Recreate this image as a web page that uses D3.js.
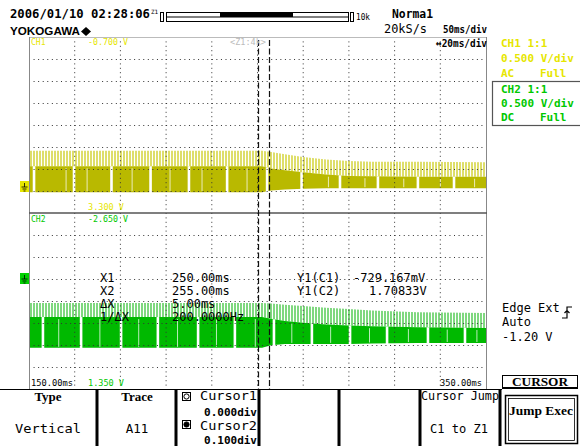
<!DOCTYPE html>
<html><head><meta charset="utf-8">
<script src="https://cdn.jsdelivr.net/npm/d3@7"></script>
<style>body{margin:0;background:#fff}svg{display:block}</style>
</head><body><svg id="c" width="580" height="446"></svg>
<script>
// ---- data ----
const timeRange = [150, 350];            // ms, 20 ms/div
const gridTimes = [170,190,210,230,250,270,290,310,330];
const cursorTimes = [250, 255];          // X1, X2 (ms)
const timeMs   = [150, 252, 256, 262, 270, 280, 290, 300, 320, 350];
const ch1Peak  = [0.80,0.80,0.77,0.72,0.66,0.60,0.57,0.55,0.55,0.54];
const ch1Top   = [0.45,0.45,0.40,0.36,0.31,0.26,0.23,0.22,0.21,0.21];
const ch1Bot   = [-0.14,-0.14,-0.10,-0.08,-0.06,-0.05,-0.05,-0.05,-0.05,-0.05];
const ch2Peak  = [-0.59,-0.59,-0.60,-0.63,-0.66,-0.70,-0.73,-0.76,-0.80,-0.82];
const ch2Top   = [-0.91,-0.91,-0.95,-1.00,-1.04,-1.08,-1.10,-1.12,-1.14,-1.16];
const ch2Bot   = [-1.61,-1.61,-1.55,-1.52,-1.52,-1.52,-1.52,-1.51,-1.50,-1.50];
const ch1Gaps  = [152.2,169.7,186.1,203.2,220.0,236.7,254.2,269.3,286.1,302.7,320.2,336.0];
const ch1Thin  = [166.2,175.4,195.1,211.7,225.7,245.4,281,297,314,330,345];
const ch2Gaps  = [156.1,172.8,190.3,206.4,224.0,240.1,257.2,273.8,290.5,306.7,324.6,340.8];
const ch2Thin  = [163,181,198,215,232,249,265,282,299,316,333,346];
const cursorRows = [["X1","250.00ms"],["X2","255.00ms"],["\u0394X","5.00ms"],["1/\u0394X","200.0000Hz"]];
const yRows = [["Y1(C1)","-729.167mV"],["Y1(C2)","1.70833V"]];

// ---- layout ----
const svg = d3.select("#c");
const L=29, R=486, T=37, B=389, MID=213;
const x = d3.scaleLinear().domain(timeRange).range([L,R]);
const y1 = d3.scaleLinear().domain([0,1]).range([186,142]);   // CH1 gnd at 186, 0.5V/div
const y2 = d3.scaleLinear().domain([0,1]).range([277,233]);   // CH2 gnd at 277
const MONO = "DejaVu Sans Mono";
const Y1C="#e6e600", G1C="#00c800";
const ch1Dark="#b9b900", ch1Light="#dede6a", ch2Dark="#00b900", ch2Light="#7fd87f";

const defs = svg.append("defs");
function stripes(id,col){
  const p=defs.append("pattern").attr("id",id).attr("patternUnits","userSpaceOnUse").attr("width",3).attr("height",10);
  p.append("rect").attr("width",2).attr("height",10).attr("fill",col);
}
stripes("s1",ch1Light); stripes("s2",ch2Light);
defs.append("clipPath").attr("id","clipG").append("rect").attr("x",L).attr("y",T).attr("width",R-L).attr("height",B-T);

const g = svg.append("g").attr("clip-path","url(#clipG)");

function band(peak,top,bot,ys,dark,pat,gaps,thin){
  const pts = timeMs.map((t,i)=>({t,p:peak[i],tp:top[i],b:bot[i]}));
  g.append("path").datum(pts).attr("fill",`url(#${pat})`)
    .attr("d",d3.area().x(d=>x(d.t)).y0(d=>ys(d.tp)).y1(d=>ys(d.p)));
  g.append("path").datum(pts).attr("fill",dark)
    .attr("d",d3.area().x(d=>x(d.t)).y0(d=>ys(d.b)).y1(d=>ys(d.tp)));
  const topAt = d3.scaleLinear().domain(timeMs).range(top);
  const botAt = d3.scaleLinear().domain(timeMs).range(bot);
  g.selectAll(null).data(gaps).join("rect")
    .attr("x",d=>x(d)-1.3).attr("width",2.6)
    .attr("y",d=>ys(topAt(d))).attr("height",d=>ys(botAt(d))-ys(topAt(d))+1)
    .attr("fill","#fff");
  g.selectAll(null).data(thin).join("rect")
    .attr("x",d=>x(d)-0.4).attr("width",0.9)
    .attr("y",d=>ys(topAt(d))+2).attr("height",d=>ys(botAt(d))-ys(topAt(d))-3)
    .attr("fill","#fff").attr("opacity",0.8);
}
band(ch1Peak,ch1Top,ch1Bot,y1,ch1Dark,"s1",ch1Gaps,ch1Thin);
band(ch2Peak,ch2Top,ch2Bot,y2,ch2Dark,"s2",ch2Gaps,ch2Thin);

// grid
const hLines = d3.range(1,16).filter(j=>j!==8).map(j=>T+22*j);
svg.selectAll(null).data(gridTimes).join("line")
  .attr("x1",d=>x(d)).attr("x2",d=>x(d)).attr("y1",T).attr("y2",B)
  .attr("stroke","#333").attr("stroke-width",1).attr("stroke-dasharray","1,3.4");
svg.selectAll(null).data(hLines).join("line")
  .attr("x1",L).attr("x2",R).attr("y1",d=>d+0.5).attr("y2",d=>d+0.5)
  .attr("stroke","#333").attr("stroke-width",1).attr("stroke-dasharray","1,3.57");
svg.append("line").attr("x1",L).attr("x2",R).attr("y1",T+0.5).attr("y2",T+0.5).attr("stroke","#bbb");
svg.append("line").attr("x1",L+0.5).attr("x2",L+0.5).attr("y1",T).attr("y2",B).attr("stroke","#888");
svg.append("line").attr("x1",R+0.5).attr("x2",R+0.5).attr("y1",T).attr("y2",B).attr("stroke","#888");
svg.append("line").attr("x1",L).attr("x2",R+1).attr("y1",MID).attr("y2",MID).attr("stroke","#555").attr("stroke-width",1.6);
// cursors
svg.selectAll(null).data(cursorTimes).join("line")
  .attr("x1",d=>Math.round(x(d))+0.5).attr("x2",d=>Math.round(x(d))+0.5).attr("y1",T+3).attr("y2",B)
  .attr("stroke","#111").attr("stroke-width",1.2).attr("stroke-dasharray","6,2.5");

function txt(s,xx,yy,opt={}){
  const t=svg.append("text").attr("x",xx).attr("y",yy).text(s)
    .attr("font-family",opt.f||MONO).attr("font-size",opt.s||12)
    .attr("font-weight",opt.w||"normal").attr("fill",opt.c||"#000");
  if(opt.a) t.attr("text-anchor",opt.a);
  if(opt.len) t.attr("textLength",opt.len).attr("lengthAdjust","spacingAndGlyphs");
  return t;
}
// header
txt("2006/01/10 02:28:06",10,18,{s:12.3,w:"bold",len:140});
txt("Z1",151,14,{s:6});
svg.append("rect").attr("x",160.5).attr("y",12.5).attr("width",3).attr("height",9).attr("fill","none").attr("stroke","#000");
svg.append("rect").attr("x",166.5).attr("y",12.5).attr("width",182).attr("height",9).attr("fill","none").attr("stroke","#000");
svg.append("line").attr("x1",166).attr("x2",349).attr("y1",17).attr("y2",17).attr("stroke","#000");
svg.append("rect").attr("x",220).attr("y",13).attr("width",73).attr("height",4).attr("fill","#000");
svg.append("rect").attr("x",350.5).attr("y",12.5).attr("width",3).attr("height",9).attr("fill","none").attr("stroke","#000");
txt("10k",356,20,{s:8,len:14});
txt("YOKOGAWA",10,35,{f:"Liberation Sans",s:11,w:"bold",len:70});
svg.append("path").attr("d","M86,27 L91,31.5 L86,36 L81,31.5Z").attr("fill","#000");
txt("Norma1",392,18,{s:12,w:"bold",len:41});
txt("20kS/s",384,33,{s:12,len:43});
txt("50ms/div",443,33,{s:11,w:"bold",len:44});
txt("\u219420ms/div",436,47,{s:11,w:"bold",len:51});
// channel labels
txt("CH1",31,45,{s:8,c:Y1C});
txt("-0.700 V",88,45,{s:8.5,c:Y1C,len:40});
txt("<Z1:4k>",230,45,{s:8.5,c:"#bbb",len:36});
txt("3.300 V",88,210,{s:8.5,c:Y1C,len:36});
txt("CH2",31,222,{s:8,c:G1C});
txt("-2.650 V",88,222,{s:8.5,c:G1C,len:40});
txt("150.00ms",31,386,{s:8,len:42});
txt("1.350 V",88,386,{s:8,c:G1C,len:36});
txt("350.00ms",440,386,{s:8,len:42});
// ground markers
[[181,"#e6e600"],[273,"#00d000"]].forEach(([yy,c])=>{
  svg.append("rect").attr("x",20).attr("y",yy).attr("width",9).attr("height",11).attr("fill",c);
  svg.append("path").attr("d",`M24.5,${yy+2}V${yy+6}M21.5,${yy+6}H27.5M22.5,${yy+8}H26.5M23.5,${yy+10}H25.5`).attr("stroke","#000").attr("stroke-width",0.8).attr("fill","none");
});
// right info panel
txt("CH1 1:1",501,47,{s:11,w:"bold",c:Y1C});
txt("0.500 V/div",501,62,{s:11,w:"bold",c:Y1C});
txt("AC",501,77,{s:11,w:"bold",c:Y1C}); txt("Full",540,77,{s:11,w:"bold",c:Y1C});
svg.append("rect").attr("x",492.5).attr("y",81.5).attr("width",90).attr("height",44).attr("fill","none").attr("stroke","#555").attr("stroke-width",1.2);
txt("CH2 1:1",501,93,{s:11,w:"bold",c:G1C});
txt("0.500 V/div",501,107,{s:11,w:"bold",c:G1C});
txt("DC",501,121,{s:11,w:"bold",c:G1C}); txt("Full",540,121,{s:11,w:"bold",c:G1C});
// cursor readouts
cursorRows.forEach((r,i)=>{ txt(r[0],100,282+i*13,{s:12}); txt(r[1],172,282+i*13,{s:12}); });
txt(yRows[0][0],297,282,{s:12}); txt(yRows[0][1],353,282,{s:12});
txt(yRows[1][0],297,295,{s:12}); txt(yRows[1][1],369,295,{s:12});
// trigger
txt("Edge Ext",502,312,{s:12});
svg.append("path").attr("d","M562,318 H567 V307 H572 M564.5,313 L567,310.5 L569.5,313").attr("stroke","#000").attr("fill","none").attr("stroke-width",1.2);
txt("Auto",502,326,{s:12});
txt("-1.20 V",502,341,{s:12});
// menu
svg.append("line").attr("x1",0).attr("x2",502).attr("y1",389.5).attr("y2",389.5).attr("stroke","#000").attr("stroke-width",1.2);
[97,176,259,339,420,500].forEach(xx=>svg.append("rect").attr("x",xx-1.5).attr("y",389).attr("width",3).attr("height",57).attr("fill","#000"));
const SER="Liberation Serif";
txt("Type",48,401,{f:SER,s:13,w:"bold",a:"middle"});
txt("Vertical",48,433,{s:12.5,a:"middle",len:66});
txt("Trace",137,401,{f:SER,s:13,w:"bold",a:"middle"});
txt("A11",137,433,{s:12.5,a:"middle"});
[[392,0],[420,1]].forEach(([yy,k])=>{
  svg.append("rect").attr("x",182.5).attr("y",yy+0.5).attr("width",8).attr("height",8).attr("fill","none").attr("stroke","#000");
  svg.append("circle").attr("cx",186.5).attr("cy",yy+4.5).attr("r",2.6).attr("fill",k?"#000":"none").attr("stroke","#000");
});
txt("Cursor1",200,400,{s:12.5,len:57});
txt("0.000div",257,416,{s:11,w:"bold",a:"end"});
txt("Cursor2",200,430,{s:12.5,len:57});
txt("0.100div",257,444,{s:11,w:"bold",a:"end"});
txt("Cursor Jump",421,400,{s:12,len:78});
txt("C1 to Z1",430,433,{s:12.5,len:58});
svg.append("rect").attr("x",502.5).attr("y",375.5).attr("width",75).attr("height",12).attr("fill","none").attr("stroke","#000");
svg.append("line").attr("x1",502).attr("x2",578).attr("y1",388).attr("y2",388).attr("stroke","#000").attr("stroke-width",2);
txt("CURSOR",540,386,{f:SER,s:12,w:"bold",a:"middle",len:56});
svg.append("rect").attr("x",505.5).attr("y",395.5).attr("width",72).attr("height",48).attr("fill","none").attr("stroke","#000").attr("stroke-width",1.5);
svg.append("rect").attr("x",508.5).attr("y",398.5).attr("width",66).attr("height",42).attr("fill","none").attr("stroke","#000").attr("stroke-width",0.8);
txt("Jump Exec",509,415,{f:SER,s:13,w:"bold",len:64});
</script></body></html>
